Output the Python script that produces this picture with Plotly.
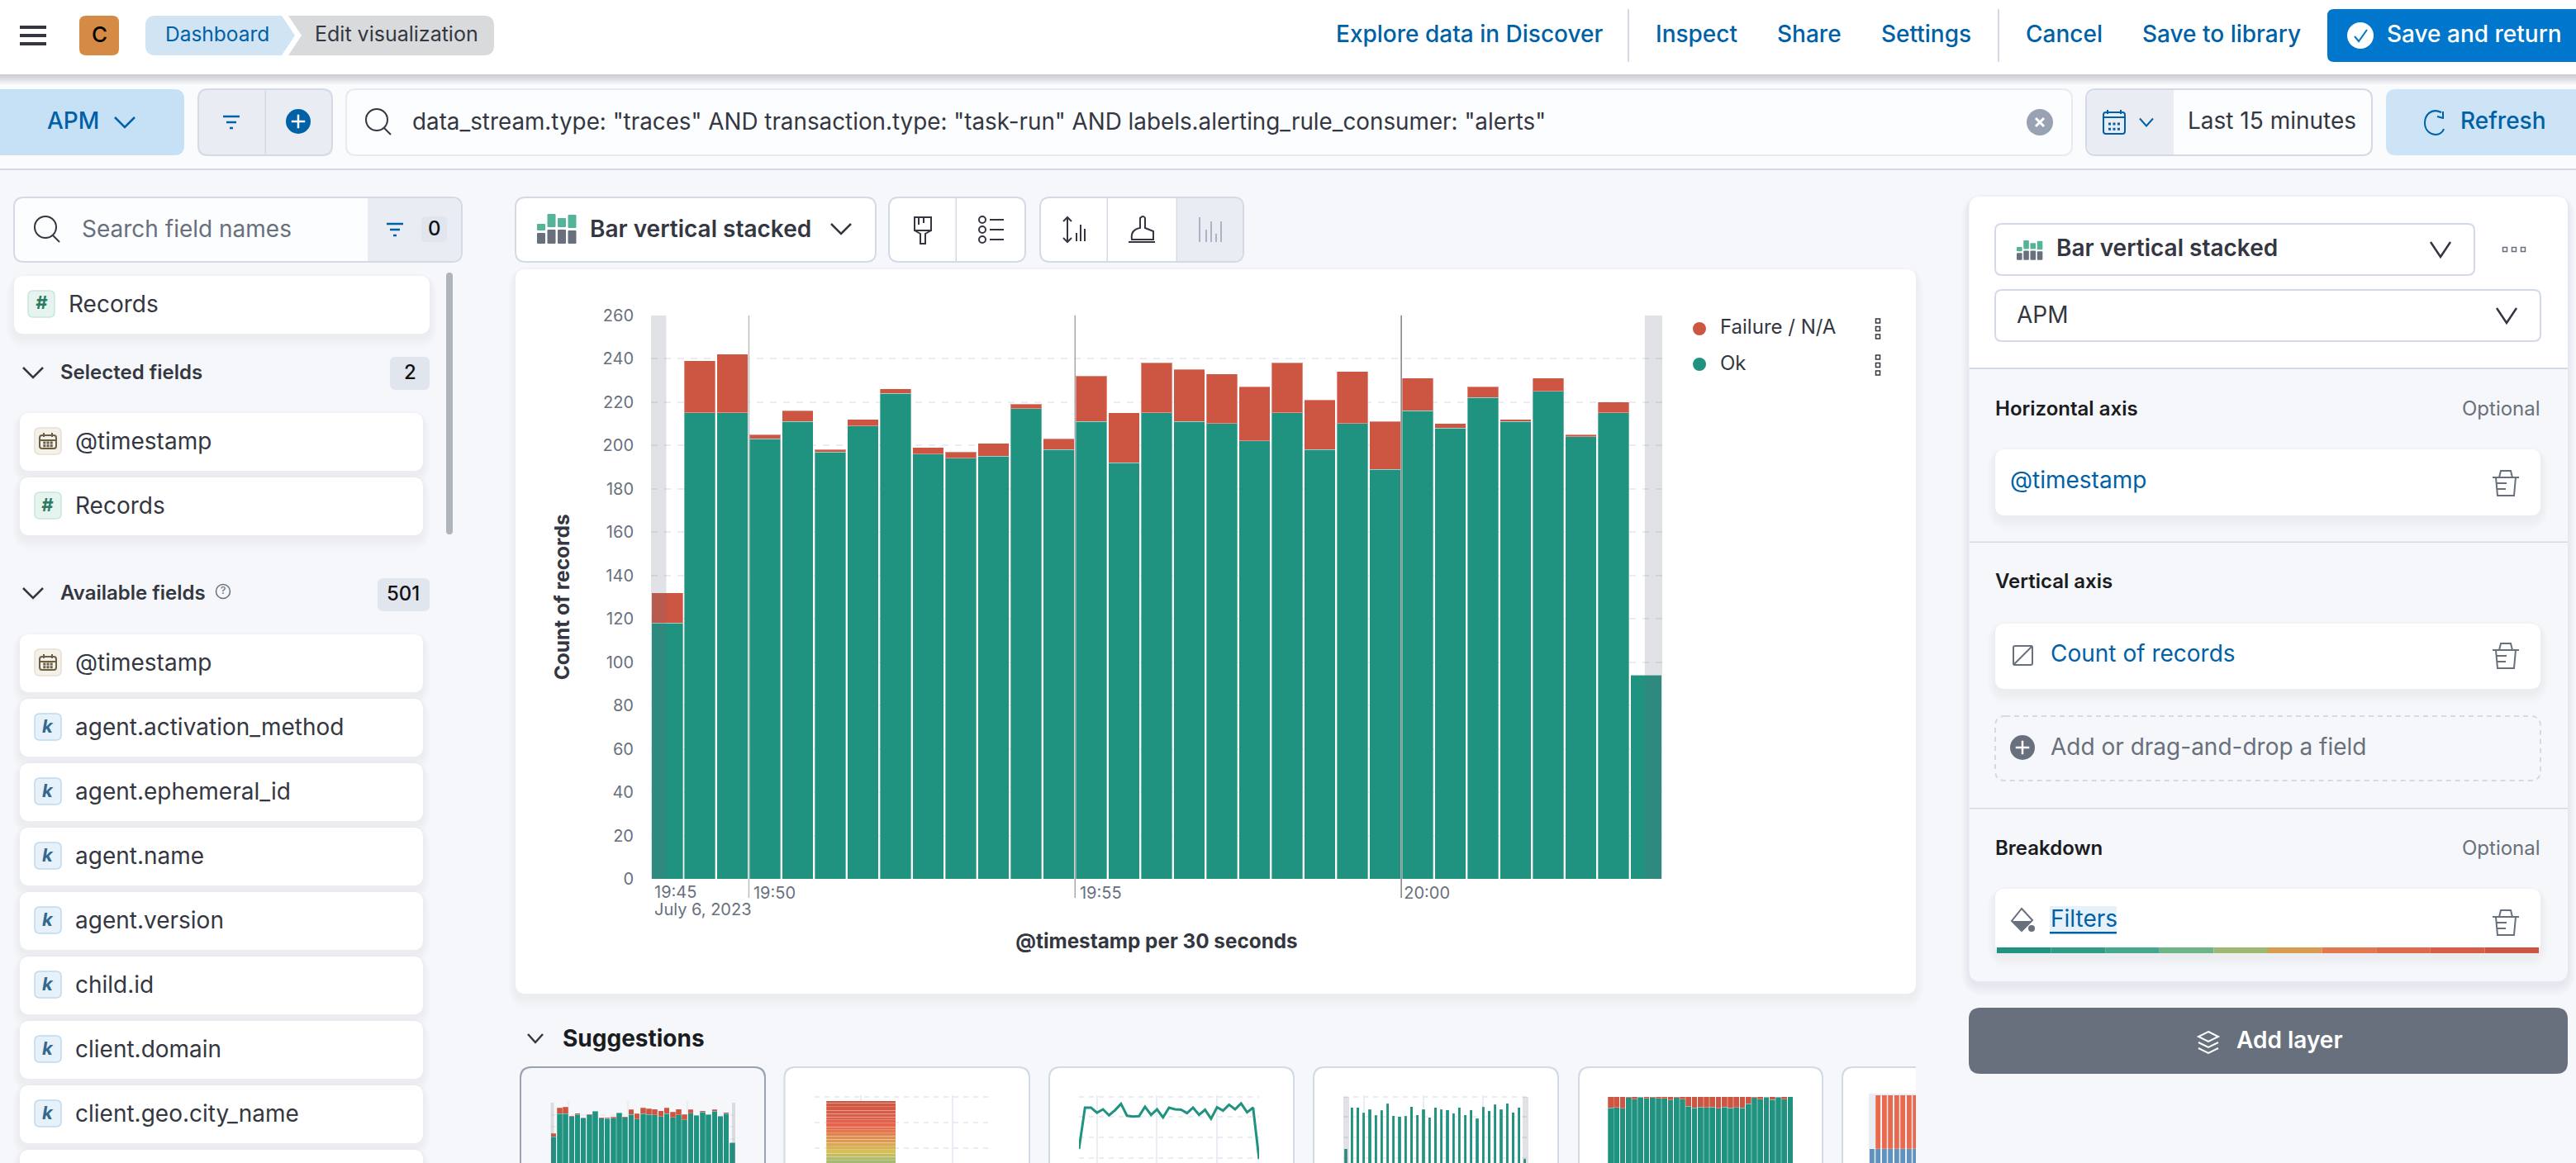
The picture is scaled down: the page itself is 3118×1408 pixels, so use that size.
import re
import plotly.graph_objects as go

W, H = 3118, 1408

# ---------- data ----------
BIN_STARTS = [
    "2023-07-06 19:48:30", "2023-07-06 19:49:00", "2023-07-06 19:49:30", "2023-07-06 19:50:00",
    "2023-07-06 19:50:30", "2023-07-06 19:51:00", "2023-07-06 19:51:30", "2023-07-06 19:52:00",
    "2023-07-06 19:52:30", "2023-07-06 19:53:00", "2023-07-06 19:53:30", "2023-07-06 19:54:00",
    "2023-07-06 19:54:30", "2023-07-06 19:55:00", "2023-07-06 19:55:30", "2023-07-06 19:56:00",
    "2023-07-06 19:56:30", "2023-07-06 19:57:00", "2023-07-06 19:57:30", "2023-07-06 19:58:00",
    "2023-07-06 19:58:30", "2023-07-06 19:59:00", "2023-07-06 19:59:30", "2023-07-06 20:00:00",
    "2023-07-06 20:00:30", "2023-07-06 20:01:00", "2023-07-06 20:01:30", "2023-07-06 20:02:00",
    "2023-07-06 20:02:30", "2023-07-06 20:03:00", "2023-07-06 20:03:30",
]
OK_COUNTS = [118, 215, 215, 203, 211, 197, 209, 224, 196, 194, 195, 217, 198, 211, 192, 215,
             211, 210, 202, 215, 198, 210, 189, 216, 208, 222, 211, 225, 204, 215, 94]
FAILURE_COUNTS = [14, 24, 27, 2, 5, 1, 3, 2, 3, 3, 6, 2, 5, 21, 23, 23,
                  24, 23, 25, 23, 23, 24, 22, 15, 2, 5, 1, 6, 1, 5, 0]
Y_TICKS = [0, 20, 40, 60, 80, 100, 120, 140, 160, 180, 200, 220, 240, 260]
X_TICK_TIMES = ["2023-07-06 19:50:00", "2023-07-06 19:55:00", "2023-07-06 20:00:00"]
X_TICK_LABELS = ["19:50", "19:55", "20:00"]
AXIS_START = "2023-07-06 19:48:30"
AXIS_END = "2023-07-06 20:04:00"
QUERY_START = "2023-07-06 19:48:44"
QUERY_END = "2023-07-06 20:03:44"
SUGGESTION_COL_UPPER = [0, 1, 1, 1, 1, 1, 1, 1]
SUGGESTION_COL_LOWER = [1, 1, 1, 1, 1, 1, 1, 1]
SUGGESTION_COL_X = [0, 1, 2, 3, 4, 5, 6, 7]
FIELD_NAMES = ["agent.activation_method", "agent.ephemeral_id", "agent.name", "agent.version",
               "child.id", "client.domain", "client.geo.city_name"]

# ---------- style ----------
GREEN, RED = "#209280", "#CC5642"
INK, GREY_TXT, BLUE = "#343741", "#69707D", "#0061A6"
BG, BORDER, FILL2 = "#F5F7FA", "#D3DAE6", "#E9EDF3"
GRID = "#E9EDF3"
FONT = "Inter"
SHADE = "rgba(105,112,125,0.2)"
TEXT_DY = -1.5

shapes, annots = [], []


def X(x):
    return x / W


def Y(y):
    return 1 - y / H


def conv(path):
    return re.sub(r"(-?[\d.]+),(-?[\d.]+)",
                  lambda m: f"{X(float(m.group(1))):.6f},{Y(float(m.group(2))):.6f}", path)


def P(path, fill=None, line=None, lw=2, dash=None, layer="below"):
    d = dict(type="path", xref="paper", yref="paper", path=conv(path), layer=layer,
             fillcolor=fill or "rgba(0,0,0,0)",
             line=dict(color=line or "rgba(0,0,0,0)", width=lw if line else 0))
    if dash:
        d["line"]["dash"] = dash
    shapes.append(d)


def RR(x0, y0, x1, y1, r=0, fill=None, line=None, lw=2, dash=None, layer="below"):
    p = (f"M {x0 + r},{y0} L {x1 - r},{y0} Q {x1},{y0} {x1},{y0 + r} L {x1},{y1 - r} "
         f"Q {x1},{y1} {x1 - r},{y1} L {x0 + r},{y1} Q {x0},{y1} {x0},{y1 - r} "
         f"L {x0},{y0 + r} Q {x0},{y0} {x0 + r},{y0} Z")
    P(p, fill, line, lw, dash, layer)


def CIRC(cx, cy, r, fill=None, line=None, lw=2):
    shapes.append(dict(type="circle", xref="paper", yref="paper", layer="below",
                       x0=X(cx - r), x1=X(cx + r), y0=Y(cy + r), y1=Y(cy - r),
                       fillcolor=fill or "rgba(0,0,0,0)",
                       line=dict(color=line or "rgba(0,0,0,0)", width=lw if line else 0)))


def SHADOW(x0, y0, x1, y1, r=12, strength=0.012, n=5, dy=3):
    for i in range(n, 0, -1):
        e = i * 3
        RR(x0 - e * 0.6, y0 - e * 0.4 + dy, x1 + e * 0.6, y1 + e + dy, r + e,
           fill=f"rgba(60,70,100,{strength})")


def CARD(x0, y0, x1, y1, r=12, fill="#FFFFFF", strength=0.012):
    SHADOW(x0, y0, x1, y1, r, strength)
    RR(x0, y0, x1, y1, r, fill=fill)


def T(x, y, s, size=28, color=INK, weight=400, anchor="left"):
    annots.append(dict(xref="paper", yref="paper", x=X(x), y=Y(y + TEXT_DY), text=s, showarrow=False,
                       xanchor=anchor, yanchor="middle", borderpad=0, borderwidth=0,
                       font=dict(family=FONT, size=size, color=color, weight=weight)))


def CHEV(cx, cy, w, h, color=INK, lw=2.5):
    P(f"M {cx - w},{cy - h} L {cx},{cy + h} L {cx + w},{cy - h}", line=color, lw=lw)


def SEARCH(cx, cy):
    CIRC(cx - 2, cy - 2, 13, line=INK, lw=2)
    P(f"M {cx + 7},{cy + 8} L {cx + 15},{cy + 16}", line=INK, lw=2)


def FILTERICON(cx, cy, color=BLUE):
    P(f"M {cx - 10},{cy - 7} L {cx + 10},{cy - 7}", line=color, lw=2.5)
    P(f"M {cx - 6},{cy} L {cx + 6},{cy}", line=color, lw=2.5)
    P(f"M {cx - 2},{cy + 7} L {cx + 2},{cy + 7}", line=color, lw=2.5)


def PLUSC(cx, cy, r, fill):
    CIRC(cx, cy, r, fill=fill)
    P(f"M {cx - r * 0.55},{cy} L {cx + r * 0.55},{cy} M {cx},{cy - r * 0.55} L {cx},{cy + r * 0.55}",
      line="#FFFFFF", lw=2.5)


def TRASH(cx, cy, c=GREY_TXT):
    P(f"M {cx - 16},{cy - 7} L {cx + 16},{cy - 7}", line=c, lw=2)
    P(f"M {cx - 8},{cy - 7} L {cx - 6},{cy - 15} L {cx + 6},{cy - 15} L {cx + 8},{cy - 7}", line=c, lw=2)
    P(f"M {cx - 12},{cy - 7} L {cx - 10},{cy + 15} L {cx + 10},{cy + 15} L {cx + 12},{cy - 7}", line=c, lw=2)
    P(f"M {cx - 11},{cy} L {cx + 1},{cy} M {cx - 10},{cy + 7} L {cx},{cy + 7}", line=c, lw=2)


def BARICON(x, y, s=1.0):
    cols = [(0, 12, 20, 28), (12.5, 0, 16, 19), (25, 5, 16, 25), (37.5, 1, 17, 19)]
    for dx, g0, g1, g2 in cols:
        RR(x + dx * s, y + g0 * s, x + (dx + 10) * s, y + g1 * s, 1, fill="#54B399")
        RR(x + dx * s, y + (g1 + 3) * s, x + (dx + 10) * s, y + 36 * s, 1, fill=GREY_TXT)


def DOTS(x, y, horizontal=False, size=5, step=9.5):
    for i in range(3):
        a = x + i * (step + 1.5) if horizontal else x
        b = y if horizontal else y + i * step
        RR(a - size / 2, b - size / 2, a + size / 2, b + size / 2, 0, line=GREY_TXT if horizontal else INK, lw=1.5)


def CALICON(cx, cy, w, h, c):
    RR(cx - w, cy - h, cx + w, cy + h, 3, line=c, lw=2)
    P(f"M {cx - w},{cy - h + 6} L {cx + w},{cy - h + 6}", line=c, lw=2)
    P(f"M {cx - w + 5},{cy - h - 3} L {cx - w + 5},{cy - h + 2} M {cx + w - 5},{cy - h - 3} L {cx + w - 5},{cy - h + 2}", line=c, lw=2)
    for i in (-1, 0, 1):
        for j in (0, 1):
            a = cx + i * w * 0.42
            b = cy + 1 + j * h * 0.48
            RR(a - 1.5, b - 1.5, a + 1.5, b + 1.5, 0, fill=c)


def BADGE(x0, cy, kind):
    x1, y0, y1 = x0 + 32, cy - 16, cy + 16
    if kind == "date":
        RR(x0, y0, x1, y1, 6, fill="#F5F1E8", line="#E6E0D3", lw=1.5)
        CALICON((x0 + x1) / 2, cy + 1, 10, 8, "#6B5F45")
    elif kind == "num":
        RR(x0, y0, x1, y1, 6, fill="#E6F4EF", line="#C9E6DC", lw=1.5)
        T((x0 + x1) / 2, cy, "<i>#</i>", 22, "#2C7A5F", 700, "center")
    else:
        RR(x0, y0, x1, y1, 6, fill="#E6F1FA", line="#BFD9EE", lw=1.5)
        T((x0 + x1) / 2, cy, "<i>k</i>", 22, "#33688F", 700, "center")


# ---------- page chrome ----------
RR(0, 0, W, 206, 0, fill="#FAFBFD")
for i in range(6):
    RR(0, 90, W, 90 + (6 - i) * 2, 0, fill="rgba(60,70,100,0.045)")
RR(0, 0, W, 90, 0, fill="#FFFFFF")
RR(0, 204, W, 206, 0, fill=BORDER)

# header left
for yy in (33, 43, 53):
    RR(24, yy - 2, 56, yy + 2, 0, fill=INK)
RR(96, 19, 144, 67, 8, fill="#D68B45")
T(120, 43, "C", 26, "#000000", 500, "center")
P("M 188,19 L 341,19 L 357,43 L 341,67 L 188,67 Q 176,67 176,55 L 176,31 Q 176,19 188,19 Z", fill="#D0E4F4")
P("M 349,19 L 586,19 Q 598,19 598,31 L 598,55 Q 598,67 586,67 L 349,67 L 365,43 Z", fill="#D9DADC")
T(200, 43, "Dashboard", 24.5, BLUE)
T(381, 43, "Edit visualization", 25, INK)

# header right
for s, x in [("Explore data in Discover", 1617), ("Inspect", 2004), ("Share", 2151), ("Settings", 2277),
             ("Cancel", 2452), ("Save to library", 2593)]:
    T(x, 43, s, 28, BLUE, 500)
for x in (1971, 2419):
    RR(x - 1, 11, x + 1, 75, 0, fill=BORDER)
RR(2817, 11, 3140, 75, 8, fill="#0077CC")
CIRC(2857, 43, 16, fill="#FFFFFF")
P("M 2850,44 L 2855,50 L 2865,36", line="#0077CC", lw=2)
T(2889, 43, "Save and return", 28, "#FFFFFF", 500)

# toolbar
RR(-10, 108, 223, 188, 12, fill="#C6E0F5")
T(57, 148, "APM", 28, BLUE, 500)
CHEV(151, 148, 12, 6, BLUE)
RR(240, 108, 402, 188, 12, fill=FILL2, line=BORDER)
RR(320.5, 108, 322, 188, 0, fill=BORDER)
FILTERICON(280, 148)
PLUSC(361, 147, 15, BLUE)
RR(419, 108, 2508, 188, 12, fill="#FCFDFE", line="#E6EAF1")
SEARCH(458, 147)
T(499, 149, 'data_stream.type: "traces" AND transaction.type: "task-run" AND labels.alerting_rule_consumer: "alerts"', 27.8, INK)
CIRC(2469, 148, 16, fill="#98A2B3")
P("M 2464,143 L 2474,153 M 2474,143 L 2464,153", line="#FFFFFF", lw=3)
RR(2525, 108, 2871, 188, 12, fill="#FCFDFE", line=BORDER)
RR(2526, 109, 2631, 187, 12, fill=FILL2)
RR(2620, 109, 2631, 187, 0, fill=FILL2)
CALICON(2559, 149, 13, 13, BLUE)
CHEV(2598, 148, 8, 4.5, BLUE, 2)
T(2648, 148, "Last 15 minutes", 28, INK)
RR(2888, 108, 3140, 188, 12, fill="#CCE4F5")
P("M 2955,136 C 2942,130 2935,140 2935,149 C 2935,159 2943,163 2948,163 C 2953,163 2957,160 2958,156",
  line=BLUE, lw=2)
P("M 2957,135 L 2957,143 L 2950,141", line=BLUE, lw=2)
T(2978, 148, "Refresh", 28, BLUE, 500)

# field list
RR(17, 239, 559, 317, 12, fill="#FCFDFE", line=BORDER)
P("M 445,240 L 547,240 Q 558,240 558,251 L 558,305 Q 558,316 547,316 L 445,316 Z", fill=FILL2)
SEARCH(57, 277)
T(99, 279, "Search field names", 28, GREY_TXT)
FILTERICON(478, 278)
RR(510, 262, 541, 293, 6, fill="#E0E5EE")
T(526, 278, "0", 24, "#111111", 500, "center")
CARD(17, 334, 520, 404)
BADGE(34, 368, "num")
T(83, 369, "Records", 28, INK)
RR(540, 330, 548, 647, 4, fill="#AEB4BC")
CHEV(40, 451, 12, 6, INK)
T(73, 452, "Selected fields", 24, INK, 600)
RR(472, 432, 520, 472, 7, fill="#E0E5EE")
T(496, 452, "2", 24, "#111111", 500, "center")
CARD(24, 500, 512, 570)
BADGE(42, 534, "date")
T(91, 535, "@timestamp", 28, INK)
CARD(24, 578, 512, 648)
BADGE(42, 612, "num")
T(91, 613, "Records", 28, INK)
CHEV(40, 718, 12, 6, INK)
T(73, 719, "Available fields", 24, INK, 600)
CIRC(270, 716, 8.5, line=GREY_TXT, lw=1.5)
T(270, 716, "?", 12, GREY_TXT, 500, "center")
RR(457, 700, 520, 740, 7, fill="#E0E5EE")
T(488, 720, "501", 24, "#111111", 500, "center")
CARD(24, 768, 512, 838)
BADGE(42, 802, "date")
T(91, 803, "@timestamp", 28, INK)
for i, name in enumerate(FIELD_NAMES):
    y0 = 846 + 78 * i
    CARD(24, y0, 512, y0 + 70)
    BADGE(42, y0 + 34, "k")
    T(91, y0 + 35, name, 28, INK)
CARD(24, 1392, 512, 1470)

# chart toolbar
RR(624, 239, 1060, 317, 12, fill="#FFFFFF", line=BORDER)
BARICON(650, 259)
T(714, 278, "Bar vertical stacked", 28, INK, 600)
CHEV(1018, 277, 12, 6, INK)
RR(1076, 239, 1241, 317, 12, fill="#FFFFFF", line=BORDER)
RR(1156.5, 239, 1158, 317, 0, fill=BORDER)
RR(1259, 239, 1505, 317, 12, fill="#FFFFFF", line=BORDER)
P("M 1425,240 L 1494,240 Q 1504,240 1504,250 L 1504,306 Q 1504,316 1494,316 L 1425,316 Z", fill=FILL2)
RR(1339.5, 239, 1341, 317, 0, fill=BORDER)
RR(1423.5, 239, 1425, 317, 0, fill=BORDER)
# paintbrush
P("M 1107,263 L 1127,263 L 1127,279 L 1107,279 Z M 1112,263 L 1112,272 M 1118,263 L 1118,270 M 1107,279 L 1114,283 L 1114,295 L 1120,295 L 1120,283 L 1127,279", line=INK, lw=2)
# list
for dy in (-12, 0, 12):
    CIRC(1189, 278 + dy, 4, line=INK)
    P(f"M 1198,{278 + dy} L 1215,{278 + dy}", line=INK, lw=2)
# axis icons
P("M 1292,263 L 1292,293 M 1287,268 L 1292,263 L 1297,268 M 1287,288 L 1292,293 L 1297,288 M 1303,292 L 1303,282 M 1308,292 L 1308,272 M 1313,292 L 1313,277", line=INK, lw=2)
P("M 1370,290 Q 1368,278 1380,276 L 1380,264 Q 1384,260 1386,264 L 1386,276 L 1396,280 L 1396,290 Z M 1366,293 L 1398,293", line=INK, lw=2)
P("M 1452,263 L 1452,293 M 1460,293 L 1460,278 M 1466,293 L 1466,268 M 1472,293 L 1472,283 M 1478,268 L 1478,293", line="#ABB4C4", lw=2)

# chart card
CARD(624, 326, 2319, 1203, 12)

# legend
CIRC(2057, 398, 8, fill=RED)
T(2082, 397, "Failure / N/A", 24, INK)
DOTS(2273, 388.5)
CIRC(2057, 441, 8, fill=GREEN)
T(2082, 441, "Ok", 24, INK)
DOTS(2273, 432.5)

# suggestions
CHEV(648, 1257, 9, 5, INK, 2.5)
T(681, 1258, "Suggestions", 28, "#1A1C21", 700)
cards = [(629, 927), (948.5, 1247), (1269, 1567), (1589, 1887), (1910, 2207), (2229, 2420)]
for i, (a, b) in enumerate(cards):
    sel = i == 0
    RR(a, 1291, b, 1500, 14, fill=BORDER if not sel else "#98A2B3")
    RR(a + 2, 1293, b - 2, 1500, 13, fill="#FFFFFF" if not sel else "#F5F7FA")
RR(2319, 1270, 2440, 1408, 0, fill=BG)
RR(2262, 1324, 2319, 1408, 0, fill=FILL2)

# right panel
SHADOW(2383.5, 238, 3108, 1188, 14, 0.014)
RR(2383.5, 238, 3108, 1188, 14, fill=BG)
P("M 2397.5,238 L 3094,238 Q 3108,238 3108,252 L 3108,446 L 2383.5,446 L 2383.5,252 Q 2383.5,238 2397.5,238 Z", fill="#FFFFFF")
RR(2383.5, 445, 3108, 447, 0, fill=BORDER)
RR(2415, 271, 2995, 333, 8, fill="#FFFFFF", line=BORDER)
BARICON(2441, 291, 0.66)
T(2489, 302, "Bar vertical stacked", 28, INK, 600)
CHEV(2954, 302, 12, 9, INK)
DOTS(3032, 302, True, 5, 9.5)
RR(2415, 351, 3075, 413, 8, fill="#FFFFFF", line=BORDER)
T(2441, 382, "APM", 28, INK)
CHEV(3034, 382, 12, 9, INK)
T(2415, 496, "Horizontal axis", 24, "#1A1C21", 600)
T(3075, 496, "Optional", 24, GREY_TXT, 400, "right")
CARD(2415, 544, 3075, 624)
T(2433, 582, "@timestamp", 28, BLUE)
TRASH(3033, 585)
RR(2383.5, 655.5, 3108, 657, 0, fill=BORDER)
T(2415, 705, "Vertical axis", 24, "#1A1C21", 600)
CARD(2415, 755, 3075, 834)
RR(2437, 782, 2460, 805, 2, line=GREY_TXT)
P("M 2437,805 L 2460,782", line=GREY_TXT, lw=2)
T(2482, 792, "Count of records", 28, BLUE)
TRASH(3033, 794)
RR(2415, 867, 3075, 945, 12, line=BORDER, lw=2, dash="6px,5px")
PLUSC(2448, 905, 15, GREY_TXT)
T(2482, 905, "Add or drag-and-drop a field", 28, GREY_TXT)
RR(2383.5, 978, 3108, 979.5, 0, fill=BORDER)
T(2415, 1028, "Breakdown", 24, "#1A1C21", 600)
T(3075, 1028, "Optional", 24, GREY_TXT, 400, "right")
CARD(2415, 1076, 3075, 1154)
RR(2481, 1097, 2562, 1130, 0, fill="#E6F1FA")
RR(2481, 1128, 2562, 1130.5, 0, fill=BLUE)
T(2482, 1113, "Filters", 28, BLUE)
P("M 2447,1100 L 2460,1114 L 2447,1127 L 2435,1115 Z", line=GREY_TXT, lw=2)
P("M 2436,1115 L 2460,1115 L 2447,1127 Z", fill=GREY_TXT)
CIRC(2459, 1124, 4, fill=GREY_TXT)
TRASH(3033, 1117)
PALETTE = ["#209280", "#2F9C85", "#45A88E", "#6DB487", "#9FB871", "#D79C52", "#E1784F", "#DE6A4D", "#D65E46", "#CC5642"]
for i, c in enumerate(PALETTE):
    a = 2417 + i * 65.6
    RR(a, 1147, a + 65.6, 1154, 0, fill=c)
RR(2383, 1220, 3108, 1300, 14, fill=GREY_TXT)
P("M 2673,1249 L 2685,1255 L 2673,1261 L 2661,1255 Z M 2661,1262 L 2673,1268 L 2685,1262 M 2661,1269 L 2673,1275 L 2685,1269", line="#FFFFFF", lw=2)
T(2707, 1260, "Add layer", 28, "#FFFFFF", 600)

# ---------- chart ----------
fig = go.Figure()
MAIN_W = 30000 * 0.95
fig.add_trace(go.Bar(x=BIN_STARTS, y=OK_COUNTS, name="Ok", marker=dict(color=GREEN, line=dict(color="rgba(255,255,255,0.35)", width=1)),
                     width=MAIN_W, xperiod=30000, xperiodalignment="middle"))
fig.add_trace(go.Bar(x=BIN_STARTS, y=FAILURE_COUNTS, name="Failure / N/A", marker=dict(color=RED, line=dict(color="rgba(255,255,255,0.35)", width=1)),
                     width=MAIN_W, xperiod=30000, xperiodalignment="middle"))

layout_axes = {}
layout_axes["xaxis"] = dict(domain=[X(788), X(2012)], anchor="y", type="date", range=[AXIS_START, AXIS_END],
                            tickmode="array", tickvals=X_TICK_TIMES, ticktext=X_TICK_LABELS,
                            showgrid=False, zeroline=False, showline=False, ticks="",
                            tickfont=dict(family=FONT, size=20, color=GREY_TXT),
                            ticklabelshift=31, ticklabelstandoff=3, tickangle=0,
                            title=dict(text="@timestamp per 30 seconds", standoff=38,
                                       font=dict(family=FONT, size=24.3, color=INK, weight=700)))
layout_axes["yaxis"] = dict(domain=[Y(1064), Y(381.7)], anchor="x", range=[0, 260],
                            tickmode="array", tickvals=Y_TICKS, ticks="", showline=False,
                            zeroline=False, showgrid=True, gridcolor=GRID, gridwidth=2, griddash="8px,8px",
                            tickfont=dict(family=FONT, size=20, color=GREY_TXT), ticklabelstandoff=20,
                            title=dict(text="Count of records", standoff=32,
                                       font=dict(family=FONT, size=24.5, color=INK, weight=700)))

# shaded out-of-range bands and minute lines
for a, b in ((AXIS_START, QUERY_START), (QUERY_END, AXIS_END)):
    shapes.append(dict(type="rect", xref="x", yref="y", x0=a, x1=b, y0=0, y1=260, layer="above",
                       fillcolor=SHADE, line=dict(width=0)))
for t, c in zip(X_TICK_TIMES, ("#BDBDBD", "#A6A6A6", "#808080")):
    shapes.append(dict(type="line", xref="x", yref="paper", x0=t, x1=t, y0=Y(1087), y1=Y(381.7),
                       layer="above", line=dict(color=c, width=1.5)))
T(792, 1081, "19:45", 20, GREY_TXT)
T(792, 1102, "July 6, 2023", 20, GREY_TXT)


def axes(i, x0, x1, y0, y1, xopts, yopts):
    base = dict(showticklabels=False, ticks="", zeroline=False, showline=False, fixedrange=True)
    layout_axes[f"xaxis{i}"] = dict(domain=[X(x0), X(x1)], anchor=f"y{i}", showgrid=False, **base)
    layout_axes[f"xaxis{i}"].update(xopts)
    layout_axes[f"yaxis{i}"] = dict(domain=[Y(y1), Y(y0)], anchor=f"x{i}", showgrid=True, gridcolor=GRID,
                                    gridwidth=2, griddash="6px,6px", **base)
    layout_axes[f"yaxis{i}"].update(yopts)


def yr(px_ref, v_ref, k, y0, y1):
    return [v_ref - (y1 - px_ref) / k, v_ref + (px_ref - y0) / k]


def vgrid(times):
    return dict(showgrid=True, gridcolor=GRID, gridwidth=2, griddash="solid", tickmode="array", tickvals=times)


THIN = dict(color="rgba(255,255,255,0.3)", width=0.7)
# suggestion 1: same stacked bars, small
axes(2, 666.6, 890, 1334, 1408, dict(type="date", range=[AXIS_START, AXIS_END], **vgrid(X_TICK_TIMES)),
     dict(range=yr(1335, 260, 0.29, 1334, 1408), dtick=50, tick0=10))
for vals, c in ((OK_COUNTS, GREEN), (FAILURE_COUNTS, RED)):
    fig.add_trace(go.Bar(x=BIN_STARTS, y=vals, xaxis="x2", yaxis="y2", width=27000, xperiod=30000,
                         xperiodalignment="middle", marker=dict(color=c, line=THIN)))
for a, b in ((666.6, 670.5), (886, 890)):
    RR(a, 1335, b, 1408, 0, fill=SHADE, layer="above")

# suggestion 2: one column with a slice per time bucket
TOTALS = [o + f for o, f in zip(OK_COUNTS, FAILURE_COUNTS)]
S = sum(TOTALS)
k2 = 124 / S
ANCH = [(0, (204, 86, 66)), (0.25, (231, 102, 76)), (0.5, (214, 191, 87)), (0.75, (84, 179, 153)), (1, (32, 146, 128))]


def ramp(t):
    for (a, ca), (b, cb) in zip(ANCH, ANCH[1:]):
        if t <= b:
            u = (t - a) / (b - a)
            return "rgb(%d,%d,%d)" % tuple(ca[j] + (cb[j] - ca[j]) * u for j in range(3))
    return "rgb(32,146,128)"


axes(3, 986, 1202, 1326, 1408, dict(range=[(986 - 1042) / 84, (1202 - 1042) / 84], **vgrid([0, 1.325])),
     dict(range=yr(1332.7, S, k2, 1326, 1408), tick0=S + 5 / k2, dtick=31 / k2))
for i in reversed(range(len(TOTALS))):
    fig.add_trace(go.Bar(x=[0], y=[TOTALS[i]], xaxis="x3", yaxis="y3", width=1,
                         marker=dict(color=ramp(i / (len(TOTALS) - 1)), line=dict(color="rgba(255,255,255,0.28)", width=0.8))))

# suggestion 3: line of Ok
k3 = 0.515
axes(4, 1306, 1524, 1326, 1408, dict(type="date", range=[BIN_STARTS[0], BIN_STARTS[-1]], **vgrid(X_TICK_TIMES)),
     dict(range=yr(1403.3, 94, k3, 1326, 1408), tick0=94 + (1403.3 - 1327.7) / k3, dtick=24.7 / k3))
fig.add_trace(go.Scatter(x=BIN_STARTS, y=OK_COUNTS, xaxis="x4", yaxis="y4", mode="lines", cliponaxis=False,
                         line=dict(color=GREEN, width=3)))

# suggestion 4: thin Ok bars
axes(5, 1626, 1850, 1326, 1408,
     dict(type="date", range=["2023-07-06 19:48:17.6", "2023-07-06 20:03:47"], **vgrid(X_TICK_TIMES)),
     dict(range=yr(1403.3, 94, k3, 1326, 1408), tick0=94 + (1403.3 - 1327.7) / k3, dtick=24.7 / k3))
fig.add_trace(go.Bar(x=BIN_STARTS, y=OK_COUNTS, xaxis="x5", yaxis="y5", width=13200,
                     marker=dict(color=GREEN, line=dict(color="rgba(255,255,255,0.3)", width=0.5))))
for a, b in ((1626, 1633), (1843, 1850)):
    RR(a, 1328, b, 1408, 0, fill=SHADE, layer="above")

# suggestion 5: percentage stacked
OK_SHARE = [o / t for o, t in zip(OK_COUNTS, TOTALS)]
FAIL_SHARE = [f / t for f, t in zip(FAILURE_COUNTS, TOTALS)]
axes(6, 1946, 2170.5, 1326, 1408, dict(type="date", range=[AXIS_START, AXIS_END]),
     dict(range=yr(1327.7, 1, 128, 1326, 1408), showgrid=False))
for vals, c in ((OK_SHARE, GREEN), (FAIL_SHARE, RED)):
    fig.add_trace(go.Bar(x=BIN_STARTS, y=vals, xaxis="x6", yaxis="y6", width=28000, xperiod=30000,
                         xperiodalignment="middle", marker=dict(color=c, line=dict(color="rgba(255,255,255,0.35)", width=0.7))))

# suggestion 6: cut-off stacked columns
axes(7, 2262, 2319, 1324, 1408, dict(range=[(2262 - 2265.7) / 7.5, (2319 - 2265.7) / 7.5]),
     dict(range=yr(1390.5, 1, 64.8, 1324, 1408), showgrid=False))
fig.add_trace(go.Bar(x=SUGGESTION_COL_X, y=SUGGESTION_COL_LOWER, xaxis="x7", yaxis="y7", width=0.8,
                     marker=dict(color="#6092C0", line=dict(color="rgba(255,255,255,0.3)", width=0.7))))
fig.add_trace(go.Bar(x=SUGGESTION_COL_X, y=SUGGESTION_COL_UPPER, xaxis="x7", yaxis="y7", width=0.8,
                     marker=dict(color="#E9694E", line=dict(color="rgba(255,255,255,0.3)", width=0.7))))

fig.update_layout(width=W, height=H, autosize=False, margin=dict(l=0, r=0, t=0, b=0, pad=0, autoexpand=False),
                  paper_bgcolor=BG, plot_bgcolor="rgba(0,0,0,0)", barmode="stack", showlegend=False,
                  font=dict(family=FONT), hovermode=False, shapes=shapes, annotations=annots, **layout_axes)

fig.write_html("out.html", config={"displayModeBar": False},
               post_script="document.body.style.margin='0';document.body.style.overflow='hidden';")
